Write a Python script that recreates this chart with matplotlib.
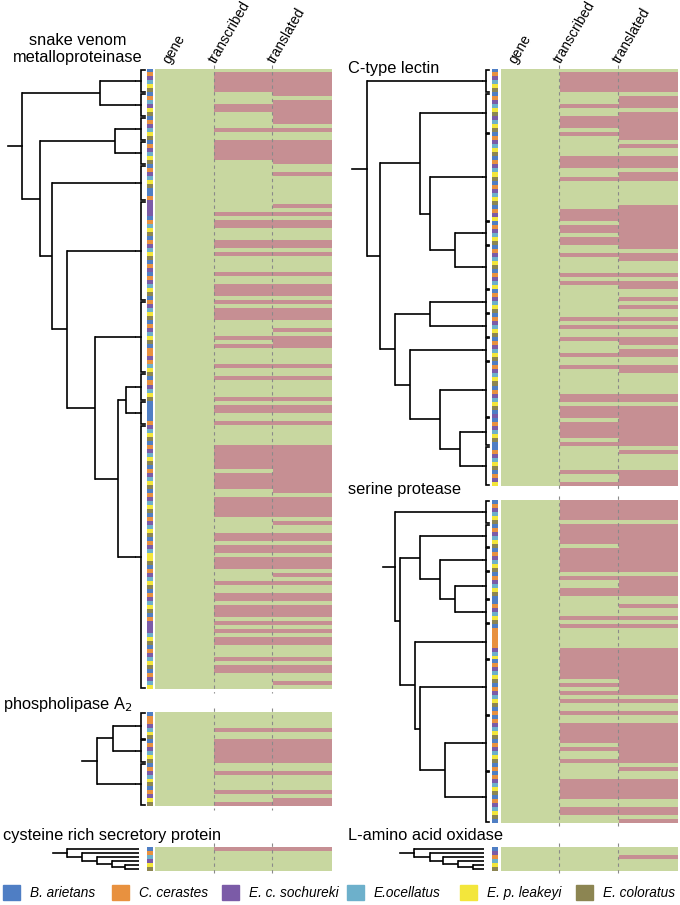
import matplotlib
matplotlib.use('Agg')
import matplotlib.pyplot as plt
import numpy as np
from matplotlib.colors import ListedColormap
from matplotlib.patches import Rectangle

plt.rcParams['font.family'] = ['Liberation Sans', 'DejaVu Sans']

W, H, DPI = 680, 905, 100
fig = plt.figure(figsize=(W / DPI, H / DPI), dpi=DPI)

# ---------------- data ----------------
species_names = ['B. arietans', 'C. cerastes', 'E. c. sochureki',
                 'E.ocellatus', 'E. p. leakeyi', 'E. coloratus']
species_colors = ['#4f7ec4', '#e8913f', '#7b5ba7', '#6db0cb', '#f3e63b', '#8c8552']
columns = ['gene', 'transcribed', 'translated']
present_color = '#c8d7a0'
absent_color = '#c68f93'

# species of each row (index into species_names)
svmp_species = ("012345" "013245" "012345" "0123450" "123450" "0122220" "1345012345012"
                "012345012345" "01234501" "1213450" "123450" "0000123450123450"
                "1234501234501234501234450123450123450122234501234501234")
ctl_species = ("012345" "0123452345" "0123450123450123450124" "012345" "01234501234"
               "012345" "012345" "012345" "01234501234502" "0123450" "0123450124")
sp_species = ("012345" "012345" "012345" "0123450" "012345" "011111234" "01234501234501"
              "01234501234501" "0123450123450")
pla2_species = "0112345" "012345" "01234501245"
crisp_species = "013245"
laao_species = "021345"

# rows (inclusive ranges) coloured as "absent" in the transcribed / translated columns
svmp_transcribed_off = [(1, 5), (9, 10), (15, 15), (18, 22), (36, 36), (38, 39), (43, 44), (46, 46),
                        (51, 51), (54, 56), (58, 58), (60, 62), (67, 67), (69, 69), (74, 74), (77, 77),
                        (82, 82), (84, 85), (88, 88), (94, 99), (101, 104), (107, 111), (116, 117),
                        (119, 120), (122, 124), (128, 128), (131, 132), (134, 136), (138, 138),
                        (140, 140), (142, 143), (147, 147), (149, 150)]
svmp_translated_off = [(1, 6), (8, 13), (15, 15), (18, 23), (26, 26), (34, 34), (36, 36), (38, 39),
                       (43, 44), (46, 46), (51, 51), (54, 56), (58, 58), (60, 62), (65, 65), (67, 69),
                       (74, 74), (77, 77), (82, 82), (84, 85), (88, 88), (94, 105), (107, 111),
                       (113, 113), (116, 117), (119, 120), (122, 124), (126, 126), (128, 128),
                       (131, 132), (134, 136), (138, 138), (140, 140), (142, 143), (147, 147),
                       (149, 150), (153, 153)]
ctl_transcribed_off = [(1, 5), (9, 9), (12, 14), (16, 16), (22, 24), (27, 27), (35, 37), (39, 40),
                       (42, 43), (46, 46), (51, 51), (53, 53), (62, 62), (64, 64), (67, 67), (71, 71),
                       (74, 74), (81, 82), (84, 86), (88, 91), (93, 93), (100, 100), (103, 103)]
ctl_translated_off = [(1, 5), (7, 9), (11, 17), (19, 19), (22, 24), (26, 27), (34, 44), (46, 47),
                      (51, 51), (53, 54), (57, 57), (59, 59), (62, 62), (64, 64), (67, 68), (70, 71),
                      (74, 75), (81, 82), (84, 93), (95, 95), (100, 103)]
sp_transcribed_off = [(0, 4), (6, 10), (12, 17), (19, 19), (22, 23), (29, 29), (31, 31), (37, 44),
                      (46, 46), (48, 48), (50, 50), (53, 53), (56, 60), (62, 62), (65, 65), (70, 74),
                      (77, 78)]
sp_translated_off = [(0, 4), (6, 17), (19, 23), (26, 26), (29, 29), (31, 31), (37, 48), (50, 50),
                     (53, 53), (56, 65), (67, 67), (70, 74), (77, 78), (80, 80)]
pla2_transcribed_off = [(4, 4), (7, 12), (15, 15), (20, 20), (23, 23)]
pla2_translated_off = [(4, 4), (7, 12), (15, 15), (20, 20), (22, 23)]
crisp_transcribed_off = [(0, 0)]
crisp_translated_off = [(0, 0)]
laao_transcribed_off = []
laao_translated_off = [(2, 2)]

# clades (bracket sizes, in rows) and trees (node x in px, children)
svmp_clades = [6, 6, 6, 6, 9, 25, 18, 7, 6, 66]
svmp_tree = (22, [(100, [0, 1]),
                  (40, [(115, [2, 3]),
                        (52, [4, (67, [5, (95, [6, (118, [(126, [7, 8]), 9])])])])])])
ctl_clades = [6, 10, 22, 6, 11, 6, 6, 6, 14, 7, 10]
ctl_tree = (367, [0, (380, [(420, [1, (430, [2, (455, [3, 4])])]),
                            (395, [(430, [5, 6]), (410, [7, (440, [8, (460, [9, 10])])])])])])
sp_clades = [6, 6, 6, 7, 6, 9, 14, 14, 13]
sp_tree = (395, [0, (400, [(420, [1, (440, [2, (455, [3, 4])])]),
                           (415, [5, (420, [6, (445, [7, 8])])])])])
pla2_clades = [7, 6, 11]
pla2_tree = (97, [(113, [0, 1]), 2])
crisp_tree = (67, [0, (82, [1, (97, [2, (112, [3, (125, [4, 5])])])])])
laao_tree = (414, [0, (430, [1, (443, [2, (458, [3, (473, [4, 5])])])])])

# ---------------- helpers ----------------
def add_ax(x0, y0, x1, y1):
    return fig.add_axes([x0 / W, 1 - y1 / H, (x1 - x0) / W, (y1 - y0) / H])


def status_matrix(n, trans_off, transl_off):
    m = np.ones((n, 3))
    for a, b in trans_off:
        m[a:b + 1, 1] = 0
    for a, b in transl_off:
        m[a:b + 1, 2] = 0
    return m


def draw_panel(side, y0, y1, species, trans_off, transl_off, clades, tree, tree_left,
               stub=14, leaf_tree=False):
    n = len(species)
    if side == 'L':
        sx0, sx1, hx0, hx1, bx, serif, tick = 146.7, 152.3, 155, 331, 140.5, 4.5, 4.5
    else:
        sx0, sx1, hx0, hx1, bx, serif, tick = 492.3, 497.6, 500.7, 677, 485.5, 3.5, 3.0
    # species strip
    ax_s = add_ax(sx0, y0, sx1, y1)
    sp_idx = np.array([int(c) for c in species])[:, None]
    ax_s.imshow(sp_idx, cmap=ListedColormap(species_colors), vmin=0, vmax=5,
                aspect='auto', interpolation='nearest', extent=(0, 1, n, 0))
    ax_s.axis('off')
    # heatmap
    ax_h = add_ax(hx0, y0, hx1, y1)
    m = status_matrix(n, trans_off, transl_off)
    ax_h.imshow(m, cmap=ListedColormap([absent_color, present_color]), vmin=0, vmax=1,
                aspect='auto', interpolation='nearest', extent=(0, 3, n, 0))
    ax_h.set_xlim(0, 3)
    ax_h.set_ylim(n, 0)
    ax_h.axis('off')
    ext = 4.0 / (y1 - y0) * n
    for xc in (1, 2):
        ax_h.plot([xc, xc], [-ext, n + ext], ls=(0, (3, 3)), color='#8a8a8a', lw=0.8,
                  clip_on=False)
    # tree axes in pixel x, row y
    ax_t = add_ax(tree_left, y0, sx0, y1)
    ax_t.set_xlim(tree_left, sx0)
    ax_t.set_ylim(n, 0)
    ax_t.axis('off')
    lw = 1.2
    if leaf_tree:
        leaf_y = [i + 0.5 for i in range(n)]
        leaf_x = sx0 - 8
    else:
        leaf_y = []
        start = 0
        for c in clades:
            a, b = start + 0.15, start + c - 0.15
            ax_t.plot([bx + serif, bx, bx, bx + serif], [a, a, b, b], color='k', lw=lw,
                      solid_joinstyle='miter', clip_on=False)
            mid = start + c / 2
            ax_t.plot([bx - tick, bx], [mid, mid], color='k', lw=lw)
            leaf_y.append(mid)
            start += c
        leaf_x = bx - tick

    def walk(node):
        if isinstance(node, int):
            return leaf_x, leaf_y[node]
        x, kids = node
        ys = []
        for k in kids:
            kx, ky = walk(k)
            ax_t.plot([x, kx], [ky, ky], color='k', lw=lw, solid_capstyle='butt')
            ys.append(ky)
        ax_t.plot([x, x], [min(ys), max(ys)], color='k', lw=lw, solid_capstyle='projecting')
        return x, (min(ys) + max(ys)) / 2

    rx, ry = walk(tree)
    ax_t.plot([rx - stub, rx], [ry, ry], color='k', lw=lw)
    return ax_h


def headers(side):
    xs = [172, 218, 277] if side == 'L' else [518, 563, 622]
    for x, name in zip(xs, columns):
        fig.text(x / W, 1 - 66 / H, name, rotation=60, ha='left', va='bottom',
                 fontsize=10, rotation_mode='anchor')


# ---------------- panels ----------------
draw_panel('L', 69, 689, svmp_species, svmp_transcribed_off, svmp_translated_off,
           svmp_clades, svmp_tree, 0, stub=14)
draw_panel('R', 69, 486, ctl_species, ctl_transcribed_off, ctl_translated_off,
           ctl_clades, ctl_tree, 340, stub=15)
draw_panel('R', 500, 823, sp_species, sp_transcribed_off, sp_translated_off,
           sp_clades, sp_tree, 340, stub=12)
draw_panel('L', 712, 806, pla2_species, pla2_transcribed_off, pla2_translated_off,
           pla2_clades, pla2_tree, 0, stub=15)
draw_panel('L', 847, 871, crisp_species, crisp_transcribed_off, crisp_translated_off,
           None, crisp_tree, 0, stub=14, leaf_tree=True)
draw_panel('R', 847, 871, laao_species, laao_transcribed_off, laao_translated_off,
           None, laao_tree, 340, stub=14, leaf_tree=True)
headers('L')
headers('R')

tfs = 11.8
fig.text(78 / W, 1 - 49 / H, 'snake venom\nmetalloproteinase', ha='center', va='center',
         fontsize=tfs, linespacing=1.1)
fig.text(348 / W, 1 - 68 / H, 'C-type lectin', ha='left', va='center', fontsize=tfs)
fig.text(348 / W, 1 - 489 / H, 'serine protease', ha='left', va='center', fontsize=tfs)
fig.text(3 / W, 1 - 704 / H, 'phospholipase A$_2$', ha='left', va='center', fontsize=tfs)
fig.text(3 / W, 1 - 835 / H, 'cysteine rich secretory protein', ha='left', va='center',
         fontsize=tfs)
fig.text(348 / W, 1 - 835 / H, 'L-amino acid oxidase', ha='left', va='center', fontsize=tfs)

# legend
leg_x = [3, 112, 222, 347, 460, 576]
for x, name, col in zip(leg_x, species_names, species_colors):
    fig.patches.append(Rectangle((x / W, 1 - 900 / H), 17 / W, 15 / H, color=col,
                                 transform=fig.transFigure, figure=fig))
    fig.text((x + 27) / W, 1 - 892.5 / H, name, style='italic', ha='left', va='center',
             fontsize=9.8)

fig.savefig('out.png', dpi=DPI)
